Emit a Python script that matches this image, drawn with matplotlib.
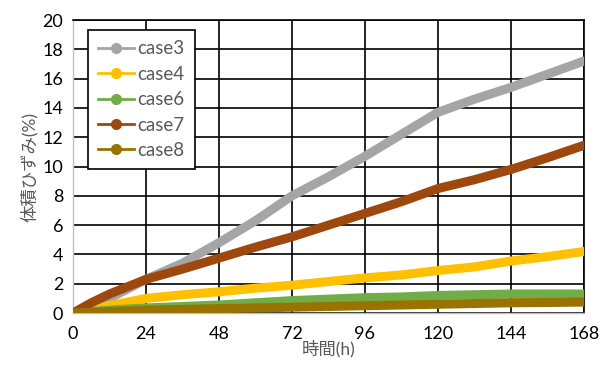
import matplotlib
matplotlib.use("Agg")
import matplotlib.pyplot as plt

plt.rcParams['font.family'] = ['Lato', 'Noto Sans CJK JP', 'DejaVu Sans']

hours = [0, 6, 12, 24, 36, 48, 60, 72, 84, 96, 108, 120, 132, 144, 156, 168]
case3 = [0, 0.4, 1.0, 2.3, 3.4, 4.8, 6.3, 8.0, 9.3, 10.7, 12.2, 13.7, 14.6, 15.4, 16.3, 17.2]
case4 = [0, 0.2, 0.5, 1.0, 1.25, 1.45, 1.7, 1.9, 2.15, 2.4, 2.6, 2.9, 3.15, 3.55, 3.85, 4.2]
case6 = [0, 0.1, 0.2, 0.35, 0.45, 0.55, 0.7, 0.85, 0.95, 1.05, 1.1, 1.2, 1.25, 1.3, 1.3, 1.3]
case7 = [0, 0.7, 1.3, 2.3, 3.0, 3.75, 4.5, 5.2, 6.0, 6.8, 7.6, 8.5, 9.1, 9.8, 10.6, 11.45]
case8 = [0, 0.05, 0.1, 0.2, 0.25, 0.3, 0.35, 0.4, 0.45, 0.5, 0.55, 0.6, 0.65, 0.7, 0.72, 0.75]

series = [("case3", case3, "#A5A5A5"),
          ("case4", case4, "#FFC000"),
          ("case6", case6, "#70AD47"),
          ("case7", case7, "#9E480E"),
          ("case8", case8, "#997300")]

xticks = [0, 24, 48, 72, 96, 120, 144, 168]
yticks = [0, 2, 4, 6, 8, 10, 12, 14, 16, 18, 20]

fig = plt.figure(figsize=(6.08, 3.67), dpi=100)
ax = fig.add_axes([0.12, 0.147, 0.8405, 0.7985])

for label, vals, color in series:
    ax.plot(hours, vals, color=color, lw=6.5, solid_capstyle='round',
            solid_joinstyle='round', zorder=3)
    ax.plot([], [], color=color, lw=2, marker='o', markersize=7, label=label)

ax.set_xlim(0, 168)
ax.set_ylim(0, 20)
ax.set_xticks(xticks)
ax.set_yticks(yticks)
ax.grid(True, color='black', lw=1.2, zorder=1)
ax.set_axisbelow(True)
for s in ['top', 'right']:
    ax.spines[s].set_color('black')
    ax.spines[s].set_linewidth(1.2)
for s in ['left', 'bottom']:
    ax.spines[s].set_color('#BFBFBF')
    ax.spines[s].set_linewidth(1.0)
ax.tick_params(length=0, labelsize=13, colors='black')
ax.tick_params(axis='x', pad=9)
ax.tick_params(axis='y', pad=7)
ax.set_xlabel("時間(h)", fontsize=12.5, color='#595959', labelpad=-1)
ax.set_ylabel("体積ひずみ(%)", fontsize=12.5, color='#595959', labelpad=3)

leg = ax.legend(loc='upper left', bbox_to_anchor=(0.029, 0.966), fontsize=13.5,
                frameon=True, fancybox=False, edgecolor='black',
                handlelength=1.9, handletextpad=0.2, labelspacing=0.45,
                borderpad=0.55, borderaxespad=0)
leg.get_frame().set_linewidth(1.2)
leg.get_frame().set_alpha(1)
for t in leg.get_texts():
    t.set_color('#595959')

fig.savefig("out.png", dpi=100)
